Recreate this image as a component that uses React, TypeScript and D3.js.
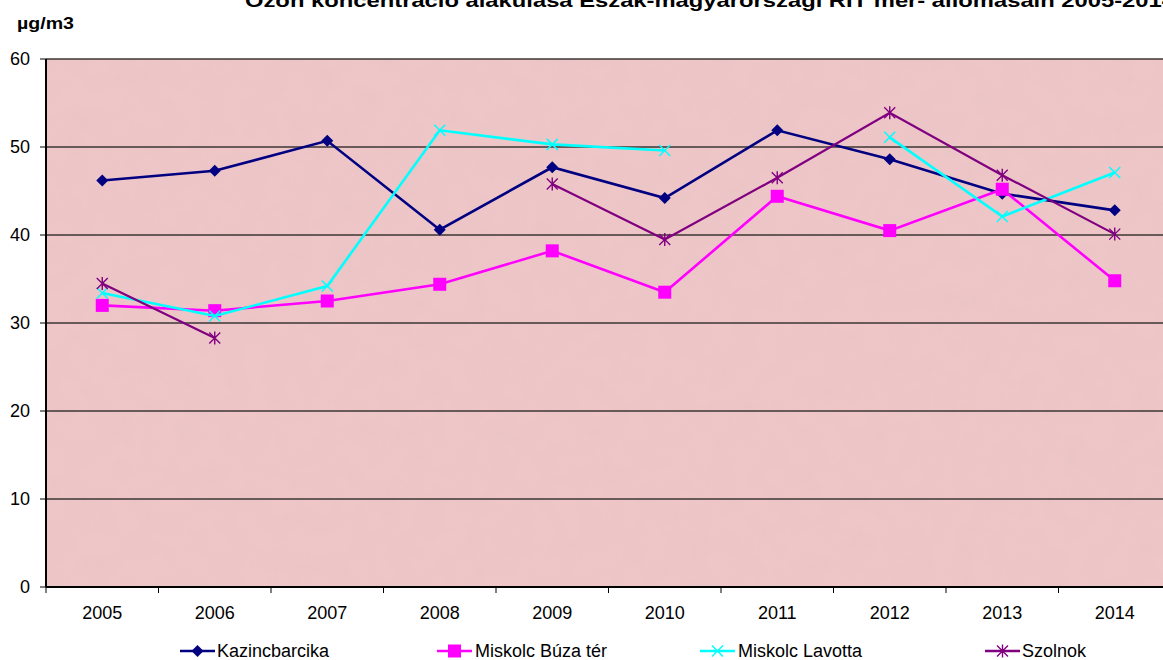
import React from "react";
import * as d3 from "d3";

const years = ["2005", "2006", "2007", "2008", "2009", "2010", "2011", "2012", "2013", "2014"];
const kazincbarcika = [46.2, 47.3, 50.7, 40.6, 47.7, 44.2, 51.9, 48.6, 44.7, 42.8];
const miskolcBuza = [32.0, 31.4, 32.5, 34.4, 38.2, 33.5, 44.4, 40.5, 45.2, 34.8];
const miskolcLavotta: (number | null)[] = [33.4, 30.8, 34.2, 51.9, 50.3, 49.6, null, 51.1, 42.1, 47.1];
const szolnok: (number | null)[] = [34.5, 28.3, null, null, 45.8, 39.5, 46.5, 53.9, 46.8, 40.1];
const yTicks = [0, 10, 20, 30, 40, 50, 60];

const seriesNames = ["Kazincbarcika", "Miskolc Búza tér", "Miskolc Lavotta", "Szolnok"];
const seriesColors = ["#000080", "#FF00FF", "#00FFFF", "#800080"];
const seriesMarkers = ["diamond", "square", "x", "star"];
const seriesData = [kazincbarcika, miskolcBuza, miskolcLavotta, szolnok];

const FONT = "Arial, 'Liberation Sans', sans-serif";

function Marker({ type, x, y, color }: { type: string; x: number; y: number; color: string }) {
  if (type === "diamond") {
    const s = 6;
    return <path d={`M${x},${y - s}L${x + s},${y}L${x},${y + s}L${x - s},${y}Z`} fill={color} />;
  }
  if (type === "square") {
    const s = 6.5;
    return <rect x={x - s} y={y - s} width={2 * s} height={2 * s} fill={color} />;
  }
  if (type === "x") {
    const s = 5.5;
    return (
      <path d={`M${x - s},${y - s}L${x + s},${y + s}M${x - s},${y + s}L${x + s},${y - s}`} stroke={color} strokeWidth={1.5} />
    );
  }
  const s = 5.5;
  return (
    <path
      d={`M${x - s},${y - s}L${x + s},${y + s}M${x - s},${y + s}L${x + s},${y - s}M${x},${y - s - 1}L${x},${y + s + 1}`}
      stroke={color}
      strokeWidth={1.4}
    />
  );
}

export default function App() {
  const W = 1163;
  const H = 660;
  const left = 46;
  const top = 59;
  const bottom = 587;
  const right = 1171;

  const x = d3.scaleBand<string>().domain(years).range([left, right]).padding(0);
  const y = d3.scaleLinear().domain([0, 60]).range([bottom, top]);
  const cx = (i: number) => (x(years[i]) as number) + x.bandwidth() / 2;

  const line = d3
    .line<number | null>()
    .defined((d) => d !== null)
    .x((_, i) => cx(i))
    .y((d) => y(d as number));

  const legendItems = [
    { lx: 180, tx: 217 },
    { lx: 437, tx: 475 },
    { lx: 700, tx: 738 },
    { lx: 985, tx: 1022 },
  ];

  return (
    <svg width={W} height={H} style={{ position: "absolute", left: 0, top: 0, display: "block" }} fontFamily={FONT}>
      <defs>
        <filter id="tex" x="0" y="0" width="100%" height="100%">
          <feTurbulence type="fractalNoise" baseFrequency="0.045" numOctaves="4" seed="3" result="n" />
          <feColorMatrix
            in="n"
            type="matrix"
            values="0 0 0 0 0.72  0 0 0 0 0.5  0 0 0 0 0.52  0 0 0 -1.6 1.05"
          />
        </filter>
      </defs>
      <rect width={W} height={H} fill="#ffffff" />
      {/* plot background */}
      <rect x={left} y={top} width={right - left} height={bottom - top} fill="#eec6c8" />
      <rect x={left} y={top} width={right - left} height={bottom - top} filter="url(#tex)" opacity={0.2} />

      {/* title */}
      <text x={245} y={7} fontSize={19} fontWeight="bold" fill="#000" textLength={930} lengthAdjust="spacingAndGlyphs">
        Ózon koncentráció alakulása Észak-magyarországi RIT mér- állomásain 2005-2014
      </text>
      <text x={17} y={29} fontSize={17} fontWeight="bold" fill="#000" textLength={57} lengthAdjust="spacingAndGlyphs">
        µg/m3
      </text>

      {/* gridlines */}
      {yTicks.filter((t) => t > 0).map((t) => (
        <line key={t} x1={left} x2={W} y1={y(t)} y2={y(t)} stroke="#3d3535" strokeWidth={1.6} />
      ))}

      {/* y axis */}
      <line x1={left} x2={left} y1={top} y2={bottom} stroke="#000" strokeWidth={2} />
      {yTicks.map((t) => (
        <g key={t}>
          <line x1={40} x2={left} y1={y(t)} y2={y(t)} stroke="#000" strokeWidth={1} />
          <text x={30} y={y(t)} dy="0.35em" textAnchor="end" fontSize={18} fill="#000">
            {t}
          </text>
        </g>
      ))}

      {/* x axis */}
      <line x1={left} x2={W} y1={bottom} y2={bottom} stroke="#000" strokeWidth={2} />
      {years.map((yr, i) => (
        <g key={yr}>
          <line x1={x(yr) as number} x2={x(yr) as number} y1={bottom} y2={bottom + 6} stroke="#000" strokeWidth={1} />
          <text x={cx(i)} y={613} dy="0.35em" textAnchor="middle" fontSize={18} fill="#000">
            {yr}
          </text>
        </g>
      ))}

      {/* series */}
      {seriesData.map((data, si) => (
        <g key={si}>
          <path d={line(data) || ""} fill="none" stroke={seriesColors[si]} strokeWidth={si === 3 ? 2.2 : 2.6} />
          {data.map((v, i) =>
            v === null ? null : <Marker key={i} type={seriesMarkers[si]} x={cx(i)} y={y(v)} color={seriesColors[si]} />
          )}
        </g>
      ))}

      {/* legend */}
      {legendItems.map((it, si) => (
        <g key={si}>
          <line x1={it.lx} x2={it.lx + 35} y1={651} y2={651} stroke={seriesColors[si]} strokeWidth={2.4} />
          <Marker type={seriesMarkers[si]} x={it.lx + 17.5} y={651} color={seriesColors[si]} />
          <text x={it.tx} y={651} dy="0.35em" fontSize={18} fill="#000">
            {seriesNames[si]}
          </text>
        </g>
      ))}
    </svg>
  );
}
